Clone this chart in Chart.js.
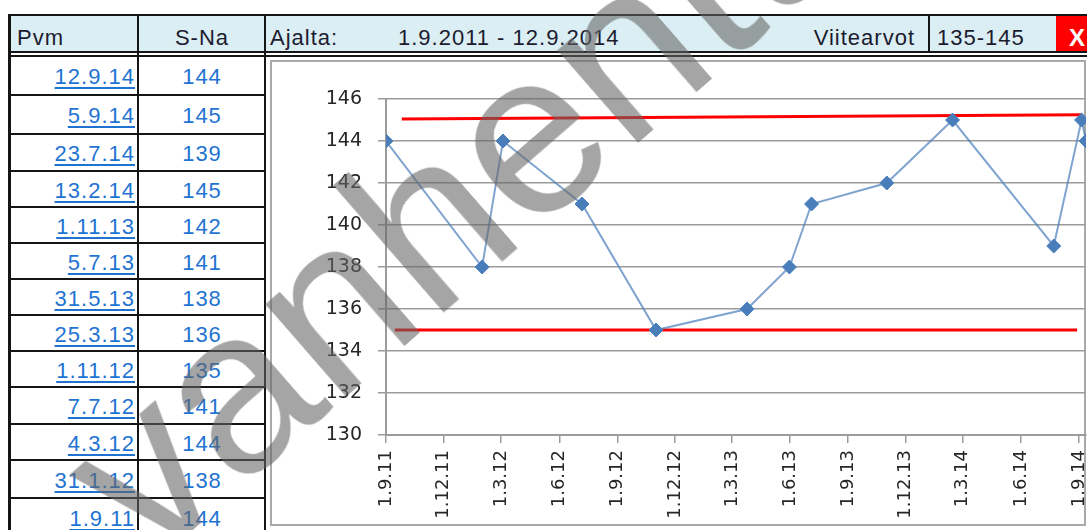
<!DOCTYPE html>
<html><head><meta charset="utf-8">
<script src="https://cdn.jsdelivr.net/npm/chart.js@4.4.1/dist/chart.umd.min.js"></script>
<style>
html,body{margin:0;padding:0;background:#fff;}
body{width:1087px;height:530px;overflow:hidden;position:relative;font-family:"Liberation Sans",Arial,sans-serif;}
.ln{position:absolute;background:#151515;}
.hdr{position:absolute;background:#daeef3;}
.ht{position:absolute;font-size:22px;letter-spacing:1px;color:#1c1c30;line-height:22px;white-space:nowrap;}
.cell{position:absolute;font-size:22px;letter-spacing:1px;color:#1f74d2;line-height:22px;white-space:nowrap;}
.date{text-decoration:underline;text-underline-offset:3px;text-decoration-thickness:2px;}
#box{position:absolute;left:270px;top:60px;width:812px;height:462px;border:2px solid #a9a9a9;background:#fff;}
#cwrap{position:absolute;left:272px;top:62px;width:840px;height:462px;}
#wm{position:absolute;font-size:232px;color:rgba(100,100,100,0.58);white-space:nowrap;line-height:1;pointer-events:none;transform-origin:0 196px;}
</style></head><body>
<div id="root"></div>
<div id="box"></div>
<div id="cwrap"><canvas id="c"></canvas></div>
<div id="wm">vanhentunut</div>
<script>
// ---- data ----
const rangeStart = '1.9.2011';
const rangeEnd = '12.9.2014';
const refText = '135-145';
const dates = ['12.9.14','5.9.14','23.7.14','13.2.14','1.11.13','5.7.13','31.5.13','25.3.13','1.11.12','7.7.12','4.3.12','31.1.12','1.9.11'];
const sna = [144,145,139,145,142,141,138,136,135,141,144,138,144];
const xTickLabels = ['1.9.11','1.12.11','1.3.12','1.6.12','1.9.12','1.12.12','1.3.13','1.6.13','1.9.13','1.12.13','1.3.14','1.6.14','1.9.14'];
const yTicks = [130,132,134,136,138,140,142,144,146];
const refLowDates = ['15.9.11','29.8.14'];
const refLowValues = [135,135];
const refHighDates = ['26.9.11','6.9.14'];
const refHighValues = [145.05,145.25];

function toDay(s){const p=s.split('.').map(Number);let y=p[2];if(y<100)y+=2000;return Math.round(Date.UTC(y,p[1]-1,p[0])/864e5);}

// ---- table / header layout ----
const root=document.getElementById('root');
function el(cls,style,text){const d=document.createElement('div');d.className=cls;Object.assign(d.style,style);if(text!==undefined)d.textContent=text;root.appendChild(d);return d;}
el('hdr',{left:'10px',top:'16px',width:'1077px',height:'36px'});
el('hdr',{left:'1056px',top:'16px',width:'31px',height:'36px',background:'#ff0000'});
el('ht',{left:'17px',top:'27px'},'Pvm');
el('ht',{left:'139px',top:'27px',width:'126px',textAlign:'center'},'S-Na');
el('ht',{left:'270px',top:'27px'},'Ajalta:');
el('ht',{left:'398px',top:'27px'},rangeStart+' - '+rangeEnd);
el('ht',{left:'700px',top:'27px',width:'215px',textAlign:'right'},'Viitearvot');
el('ht',{left:'937px',top:'27px'},refText);
el('ht',{left:'1069px',top:'27px',color:'#fff',fontWeight:'bold',fontSize:'24px'},'X');
el('ln',{left:'8px',top:'14px',width:'1079px',height:'2px'});
el('ln',{left:'8px',top:'51px',width:'1079px',height:'2px'});
el('ln',{left:'8px',top:'55px',width:'1079px',height:'2px'});
el('ln',{left:'8px',top:'14px',width:'3px',height:'516px'});
el('ln',{left:'137px',top:'14px',width:'2px',height:'516px'});
el('ln',{left:'264px',top:'14px',width:'2px',height:'516px'});
el('ln',{left:'928px',top:'14px',width:'2px',height:'39px'});
const ROW_BOUNDS=[56,95,134,171,207,243,279,315,351,387,424,460,498,536];
for(let i=0;i<dates.length;i++){
  const top=ROW_BOUNDS[i], bot=ROW_BOUNDS[i+1];
  if(i>0) el('ln',{left:'8px',top:(top-1)+'px',width:'258px',height:'2px'});
  const cy=(top+bot)/2+1.2;
  const t=Math.round(cy-10.7)+'px';
  const d=el('cell',{left:'12px',top:t,width:'123px',textAlign:'right'});
  const sp=document.createElement('span');sp.className='date';sp.textContent=dates[i];d.appendChild(sp);
  el('cell',{left:'139px',top:t,width:'126px',textAlign:'center'},String(sna[i]));
}
const wm=document.getElementById('wm');
wm.style.left='149px';wm.style.top=(568-196)+'px';wm.style.transform='rotate(-41deg)';

// ---- chart ----
const series=dates.map((d,i)=>({x:toDay(d),y:sna[i]})).sort((a,b)=>a.x-b.x);
const xMin=toDay(rangeStart), xMax=toDay(rangeEnd);
const tickDays=xTickLabels.map(toDay);
const grey='rgb(155,155,155)';
new Chart(document.getElementById('c'),{
  type:'line',
  data:{datasets:[
    {data:series,borderColor:'rgba(79,129,189,0.72)',borderWidth:2,pointStyle:'rectRot',pointRadius:7,pointBackgroundColor:'#4a7ebb',pointBorderColor:'#4a7ebb',pointBorderWidth:1,tension:0},
    {data:refHighDates.map((d,i)=>({x:toDay(d),y:refHighValues[i]})),borderColor:'#ff0000',borderWidth:3,pointRadius:0},
    {data:refLowDates.map((d,i)=>({x:toDay(d),y:refLowValues[i]})),borderColor:'#ff0000',borderWidth:3,pointRadius:0}
  ]},
  options:{
    responsive:true,maintainAspectRatio:false,animation:false,
    layout:{padding:{top:37,left:0,right:26,bottom:0}},
    plugins:{legend:{display:false},tooltip:{enabled:false}},
    scales:{
      x:{type:'linear',min:xMin,max:xMax,
        afterBuildTicks:s=>{s.ticks=tickDays.map(v=>({value:v}));},
        afterFit:s=>{s.height=89;},
        grid:{drawOnChartArea:false,drawTicks:true,tickLength:8,color:grey,lineWidth:1.5},
        border:{display:true,color:grey,width:2},
        ticks:{autoSkip:false,minRotation:90,maxRotation:90,padding:7,color:'#262626',font:{family:'DejaVu Sans',size:18},
          callback:(v,i)=>xTickLabels[i]}
      },
      y:{min:yTicks[0],max:yTicks[yTicks.length-1],
        afterBuildTicks:s=>{s.ticks=yTicks.map(v=>({value:v}));},
        afterFit:s=>{s.width=114;},
        grid:{drawTicks:true,tickLength:8,color:grey,lineWidth:1.5},
        border:{display:true,color:grey,width:2},
        ticks:{padding:16,color:'#262626',font:{family:'DejaVu Sans',size:19}}
      }
    }
  }
});
</script>
</body></html>
